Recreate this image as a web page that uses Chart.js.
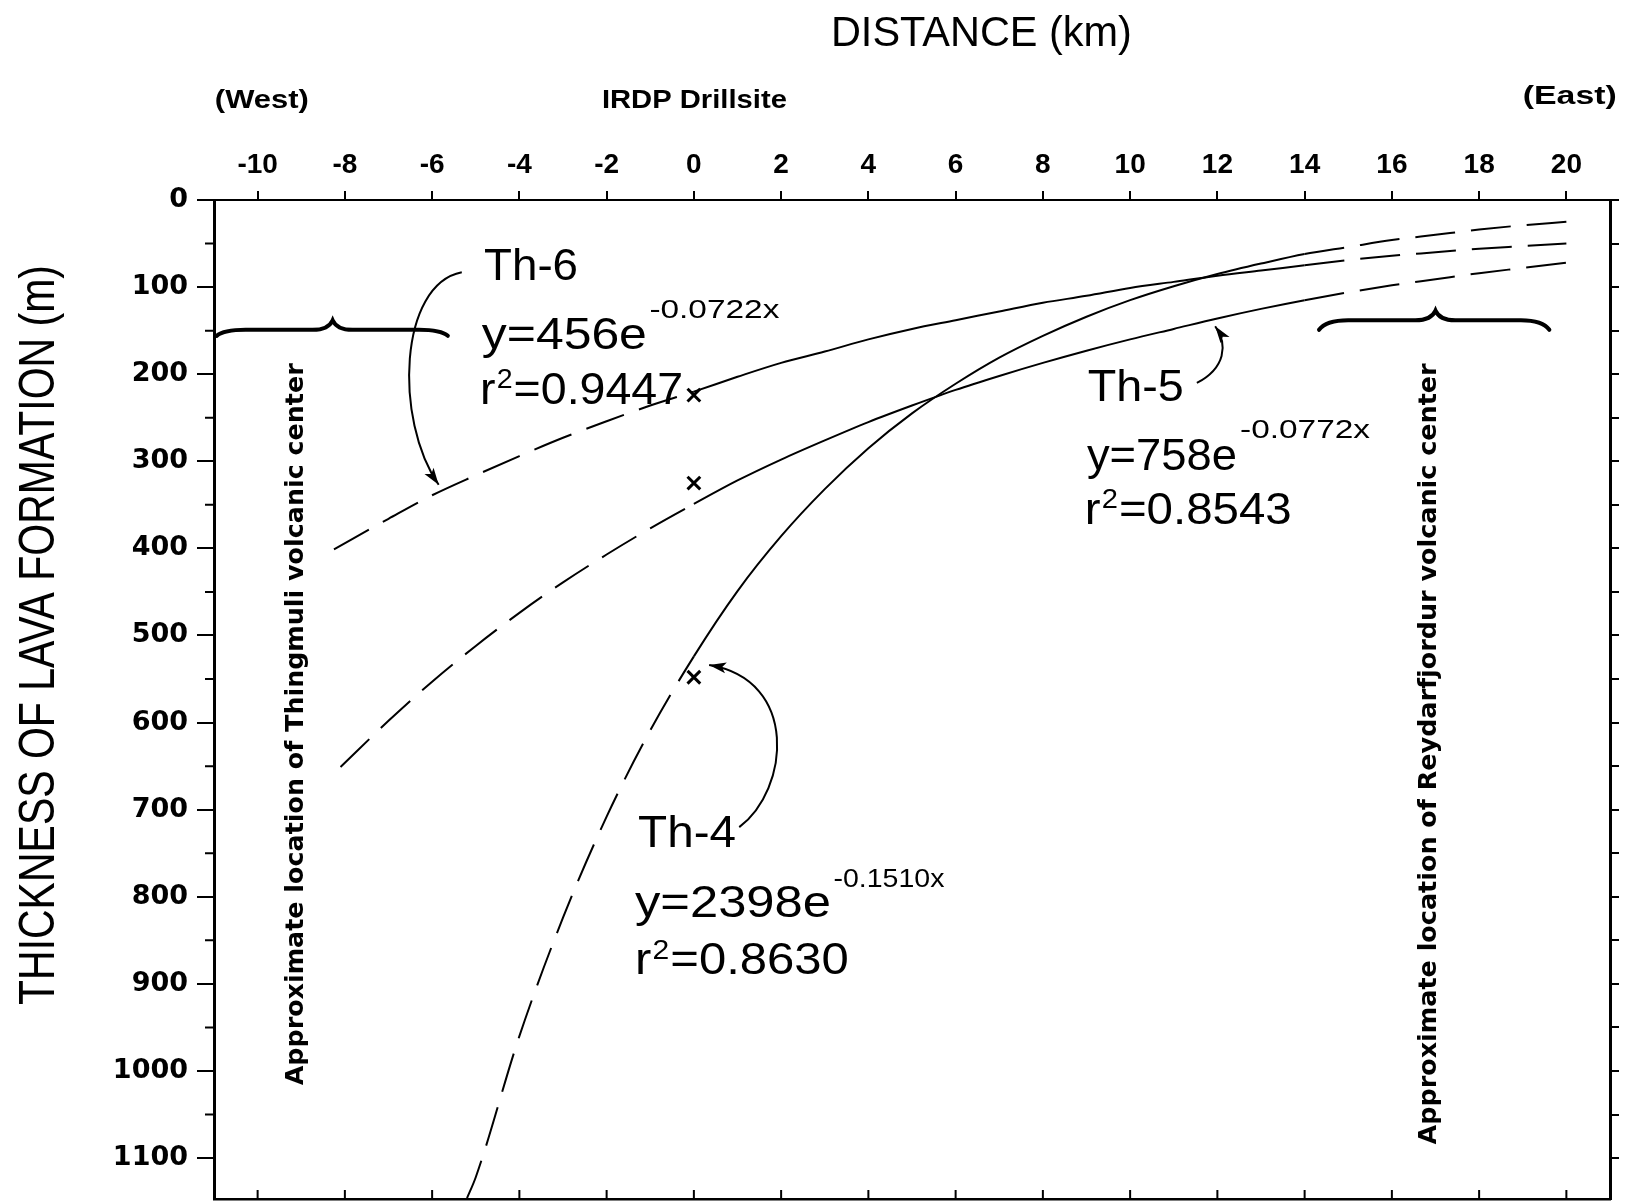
<!DOCTYPE html>
<html>
<head>
<meta charset="utf-8">
<title>Thickness of lava formation vs distance</title>
<script src="https://cdn.jsdelivr.net/npm/chart.js@4.4.1/dist/chart.umd.min.js"></script>
<style>
    html, body { margin: 0; padding: 0; background: #fff; }
    #wrap { width: 1628px; height: 1202px; }
</style>
</head>
<body>
<div id="wrap"><canvas id="lavaChart" width="1628" height="1202"></canvas></div>
<script>
// distance along the profile (km, 0 = IRDP drillsite) and thickness of lava (m)
const th4Dist = [-5.2, -5, -4, -3, -2, -1, 0, 1, 2, 3, 4, 5, 6, 7, 8, 9, 10, 11, 12, 13, 14, 15, 16, 17, 18, 19, 20];
const th4Thick = [1146, 1122, 960, 824, 708, 609, 524, 449, 386, 332, 285, 245, 211, 181, 156, 134, 115, 99, 85, 73, 62, 54, 46, 40, 34, 29, 25];

const th5Dist = [-8.1, -7, -6, -5, -4, -3, -2, -1, 0, 1, 2, 3, 4, 5, 6, 7, 8, 9, 10, 11, 12, 13, 14, 15, 16, 17, 18, 19, 20];
const th5Thick = [651, 598, 553, 512, 474, 439, 407, 377, 349, 322, 298, 276, 255, 236, 218, 202, 187, 173, 160, 148, 136, 125, 115, 106, 98, 91, 84, 78, 72];

const th6Dist = [-8.25, -7, -6, -5, -4, -3, -2, -1, 0, 1, 2, 3, 4, 5, 6, 7, 8, 9, 10, 11, 12, 13, 14, 15, 16, 17, 18, 19, 20];
const th6Thick = [401, 366, 339, 316, 294, 273, 254, 236, 220, 203, 187, 174, 160, 148, 138, 128, 118, 110, 101, 94, 87, 81, 75, 69, 64, 60, 56, 53, 50];

// measured thickness at the drillsite (Th-6, Th-5, Th-4)
const drillDist = [0, 0, 0];
const drillThick = [224, 325, 548];

const distTicks = [-10, -8, -6, -4, -2, 0, 2, 4, 6, 8, 10, 12, 14, 16, 18, 20];
const thickTicks = [0, 100, 200, 300, 400, 500, 600, 700, 800, 900, 1000, 1100];
const thickMinorTicks = [50, 150, 250, 350, 450, 550, 650, 750, 850, 950, 1050];

const INK = "#000";
const DASH = [40, 16];
const SANS = "'Liberation Sans', Arial, sans-serif";
const toPoints = (xs, ys) => xs.map((x, i) => ({ x: x, y: ys[i] }));

// fitted curves are drawn solid between the drillsite and 14 km, dashed outside
const curveDash = (ctx) => (ctx.p0.parsed.x >= 0 && ctx.p1.parsed.x <= 14 ? [] : DASH);

const curveStyle = {
    showLine: true,
    borderColor: INK,
    borderWidth: 2,
    pointRadius: 0,
    cubicInterpolationMode: "monotone",
    segment: { borderDash: curveDash },
};

// text labels placed in data units: x km, y m (left edge, vertical middle)
const notes = [
    { text: "Th-6", x: -4.81, y: 78, w: 94, size: 44 },
    { text: "y=456e", x: -4.86, y: 157, w: 165, size: 44 },
    { text: "-0.0722x", x: -1.02, y: 127, w: 130, size: 26 },
    { text: "Th-5", x: 9.03, y: 217, w: 96, size: 44 },
    { text: "y=758e", x: 9.01, y: 296, w: 150, size: 44 },
    { text: "-0.0772x", x: 12.52, y: 265, w: 130, size: 26 },
    { text: "Th-4", x: -1.28, y: 729, w: 98, size: 44 },
    { text: "y=2398e", x: -1.35, y: 809, w: 196, size: 44 },
    { text: "-0.1510x", x: 3.2, y: 780, w: 111, size: 26 },
];

const rSquared = [
    { value: "=0.9447", x: -4.9, y: 220, w: 204 },
    { value: "=0.8543", x: 8.96, y: 358, w: 208 },
    { value: "=0.8630", x: -1.35, y: 875, w: 215 },
];

const sideNotes = [
    { text: "Approximate location of Thingmuli volcanic center", x: -9.11, y: 602, len: 722 },
    { text: "Approximate location of Reydarfjordur volcanic center", x: 16.88, y: 636, len: 781 },
];

const arrows = [
    [[-5.32, 83], [-6.76, 97], [-6.88, 252], [-5.85, 327]],
    [[11.53, 210], [12.18, 193], [12.25, 166], [11.95, 145]],
    [[1.04, 720], [2.19, 677], [2.42, 551], [0.35, 534]],
];

const braces = [
    { from: -10.94, tip: -8.28, to: -5.64, arm: 149, cusp: 138, end: 156 },
    { from: 14.33, tip: 17.0, to: 19.61, arm: 138, cusp: 127, end: 149 },
];

function fitText(ctx, text, x, y, width) {
    const w = ctx.measureText(text).width;
    ctx.save();
    ctx.translate(x, y);
    ctx.scale(width / w, 1);
    ctx.fillText(text, 0, 0);
    ctx.restore();
}

// "r" + raised "2" + value, squeezed to the measured width
function drawRSquared(ctx, value, x, y, width) {
    const parts = [
        { t: "r", size: 44, dy: 0 },
        { t: "2", size: 27, dy: -11 },
        { t: value, size: 44, dy: 0 },
    ];
    let total = 0;
    parts.forEach((p) => {
        ctx.font = p.size + "px " + SANS;
        p.w = ctx.measureText(p.t).width;
        total += p.w + 1;
    });
    ctx.save();
    ctx.translate(x, y);
    ctx.scale(width / total, 1);
    let cx = 0;
    parts.forEach((p) => {
        ctx.font = p.size + "px " + SANS;
        ctx.fillText(p.t, cx, p.dy);
        cx += p.w + 1;
    });
    ctx.restore();
}

// keep axis label overhang from shrinking the plot area
const noOverhang = (axis) => {
    axis.paddingTop = 0;
    axis.paddingBottom = 0;
    axis.paddingLeft = 0;
    axis.paddingRight = 0;
};

const paper = {
    id: "paper",
    beforeDraw(chart) {
        const ctx = chart.ctx;
        ctx.save();
        ctx.fillStyle = "#fff";
        ctx.fillRect(0, 0, chart.width, chart.height);
        ctx.restore();
    },
};

const figureNotes = {
    id: "figureNotes",
    afterDraw(chart) {
        const ctx = chart.ctx;
        const xs = chart.scales.x;
        const ys = chart.scales.y;
        const area = chart.chartArea;
        const px = (v) => xs.getPixelForValue(v);
        const py = (v) => ys.getPixelForValue(v);

        ctx.save();
        ctx.fillStyle = INK;
        ctx.strokeStyle = INK;

        // minor ticks on the left axis, inward ticks on the bottom axis
        ctx.lineWidth = 2;
        ctx.beginPath();
        thickMinorTicks.forEach((v) => {
            ctx.moveTo(area.left - 9, py(v));
            ctx.lineTo(area.left, py(v));
        });
        distTicks.forEach((v) => {
            ctx.moveTo(px(v), area.bottom);
            ctx.lineTo(px(v), area.bottom - 9);
        });
        ctx.stroke();

        // titles outside the plot
        ctx.textBaseline = "middle";
        ctx.textAlign = "left";
        ctx.font = "42px " + SANS;
        fitText(ctx, "DISTANCE (km)", px(6.58) - 150, 34, 301);
        ctx.font = "bold 26px " + SANS;
        fitText(ctx, "(West)", px(-10.98), 101, 94);
        fitText(ctx, "IRDP Drillsite", px(0) - 92, 101, 185);
        fitText(ctx, "(East)", px(19.0), 97, 94);

        ctx.save();
        ctx.translate(40, 635);
        ctx.rotate(-Math.PI / 2);
        ctx.textAlign = "center";
        ctx.font = "50px " + SANS;
        const title = "THICKNESS OF LAVA FORMATION (m)";
        ctx.scale(740 / ctx.measureText(title).width, 1);
        ctx.fillText(title, 0, 0);
        ctx.restore();

        // curve labels and equations
        notes.forEach((n) => {
            ctx.font = n.size + "px " + SANS;
            fitText(ctx, n.text, px(n.x), py(n.y), n.w);
        });
        rSquared.forEach((r) => drawRSquared(ctx, r.value, px(r.x), py(r.y), r.w));

        // volcanic centre captions
        ctx.font = "bold 24px 'DejaVu Sans', sans-serif";
        sideNotes.forEach((n) => {
            ctx.save();
            ctx.translate(px(n.x), py(n.y));
            ctx.rotate(-Math.PI / 2);
            ctx.textAlign = "center";
            ctx.scale(n.len / ctx.measureText(n.text).width, 1);
            ctx.fillText(n.text, 0, 0);
            ctx.restore();
        });

        // braces over the volcanic centres
        ctx.lineWidth = 4;
        ctx.lineCap = "round";
        braces.forEach((b) => {
            const x0 = px(b.from), xc = px(b.tip), x1 = px(b.to);
            const ya = py(b.arm), yc = py(b.cusp), ye = py(b.end);
            const L = xc - x0, R = x1 - xc;
            ctx.beginPath();
            ctx.moveTo(x0, ye);
            ctx.quadraticCurveTo(x0 + 0.06 * L, ya, x0 + 0.25 * L, ya);
            ctx.lineTo(xc - 0.2 * L, ya);
            ctx.quadraticCurveTo(xc - 0.04 * L, ya + 1, xc, yc);
            ctx.quadraticCurveTo(xc + 0.04 * R, ya + 1, xc + 0.2 * R, ya);
            ctx.lineTo(x1 - 0.25 * R, ya);
            ctx.quadraticCurveTo(x1 - 0.06 * R, ya, x1, ye);
            ctx.stroke();
        });

        // curved leader arrows
        ctx.lineWidth = 2;
        ctx.lineCap = "butt";
        arrows.forEach((a) => {
            const p = a.map((q) => [px(q[0]), py(q[1])]);
            ctx.beginPath();
            ctx.moveTo(p[0][0], p[0][1]);
            ctx.bezierCurveTo(p[1][0], p[1][1], p[2][0], p[2][1], p[3][0], p[3][1]);
            ctx.stroke();
            const ang = Math.atan2(p[3][1] - p[2][1], p[3][0] - p[2][0]);
            ctx.save();
            ctx.translate(p[3][0], p[3][1]);
            ctx.rotate(ang);
            ctx.beginPath();
            ctx.moveTo(0, 0);
            ctx.lineTo(-17, -5.5);
            ctx.lineTo(-13, 0);
            ctx.lineTo(-17, 5.5);
            ctx.closePath();
            ctx.fill();
            ctx.restore();
        });

        ctx.restore();
    },
};

new Chart(document.getElementById("lavaChart"), {
    type: "scatter",
    data: {
        datasets: [
            Object.assign({ label: "Th-4", data: toPoints(th4Dist, th4Thick) }, curveStyle),
            Object.assign({ label: "Th-5", data: toPoints(th5Dist, th5Thick) }, curveStyle),
            Object.assign({ label: "Th-6", data: toPoints(th6Dist, th6Thick) }, curveStyle),
            {
                label: "Drillsite",
                data: toPoints(drillDist, drillThick),
                pointStyle: "crossRot",
                pointRadius: 9,
                borderColor: INK,
                borderWidth: 3,
                showLine: false,
            },
        ],
    },
    options: {
        responsive: false,
        animation: false,
        devicePixelRatio: 1,
        layout: { padding: 0, autoPadding: false },
        plugins: {
            legend: { display: false },
            tooltip: { enabled: false },
        },
        scales: {
            x: {
                type: "linear",
                position: "top",
                min: -11,
                max: 21,
                afterBuildTicks: (axis) => {
                    axis.ticks = distTicks.map((v) => ({ value: v }));
                },
                afterFit: (axis) => {
                    axis.height = 200;
                    noOverhang(axis);
                },
                ticks: {
                    color: INK,
                    font: { family: SANS, size: 28, weight: "bold" },
                    padding: 9,
                    autoSkip: false,
                    maxRotation: 0,
                    callback: (v) => String(v),
                },
                grid: { drawOnChartArea: false, color: INK, lineWidth: 2, tickLength: 9 },
                border: { color: INK, width: 2 },
            },
            xBottom: {
                axis: "x",
                type: "linear",
                position: "bottom",
                min: -11,
                max: 21,
                ticks: { display: false },
                grid: { display: false },
                border: { color: INK, width: 2.5 },
                afterFit: (axis) => {
                    axis.height = 3;
                    noOverhang(axis);
                },
            },
            y: {
                type: "linear",
                position: "left",
                reverse: true,
                min: 0,
                max: 1147,
                afterBuildTicks: (axis) => {
                    axis.ticks = thickTicks.map((v) => ({ value: v }));
                },
                afterFit: (axis) => {
                    axis.width = 214;
                    noOverhang(axis);
                },
                ticks: {
                    color: INK,
                    font: { family: "'DejaVu Sans', sans-serif", size: 27, weight: "bold" },
                    padding: 9,
                    autoSkip: false,
                    callback: (v) => String(v),
                },
                grid: { drawOnChartArea: false, color: INK, lineWidth: 2, tickLength: 17 },
                border: { color: INK, width: 3 },
            },
            yRight: {
                axis: "y",
                type: "linear",
                position: "right",
                reverse: true,
                min: 0,
                max: 1147,
                afterBuildTicks: (axis) => {
                    axis.ticks = thickTicks.concat(thickMinorTicks).map((v) => ({ value: v }));
                },
                afterFit: (axis) => {
                    axis.width = 18;
                    noOverhang(axis);
                },
                ticks: { display: false },
                grid: { drawOnChartArea: false, color: INK, lineWidth: 2, tickLength: 9 },
                border: { color: INK, width: 3 },
            },
        },
    },
    plugins: [paper, figureNotes],
});
</script>
</body>
</html>
